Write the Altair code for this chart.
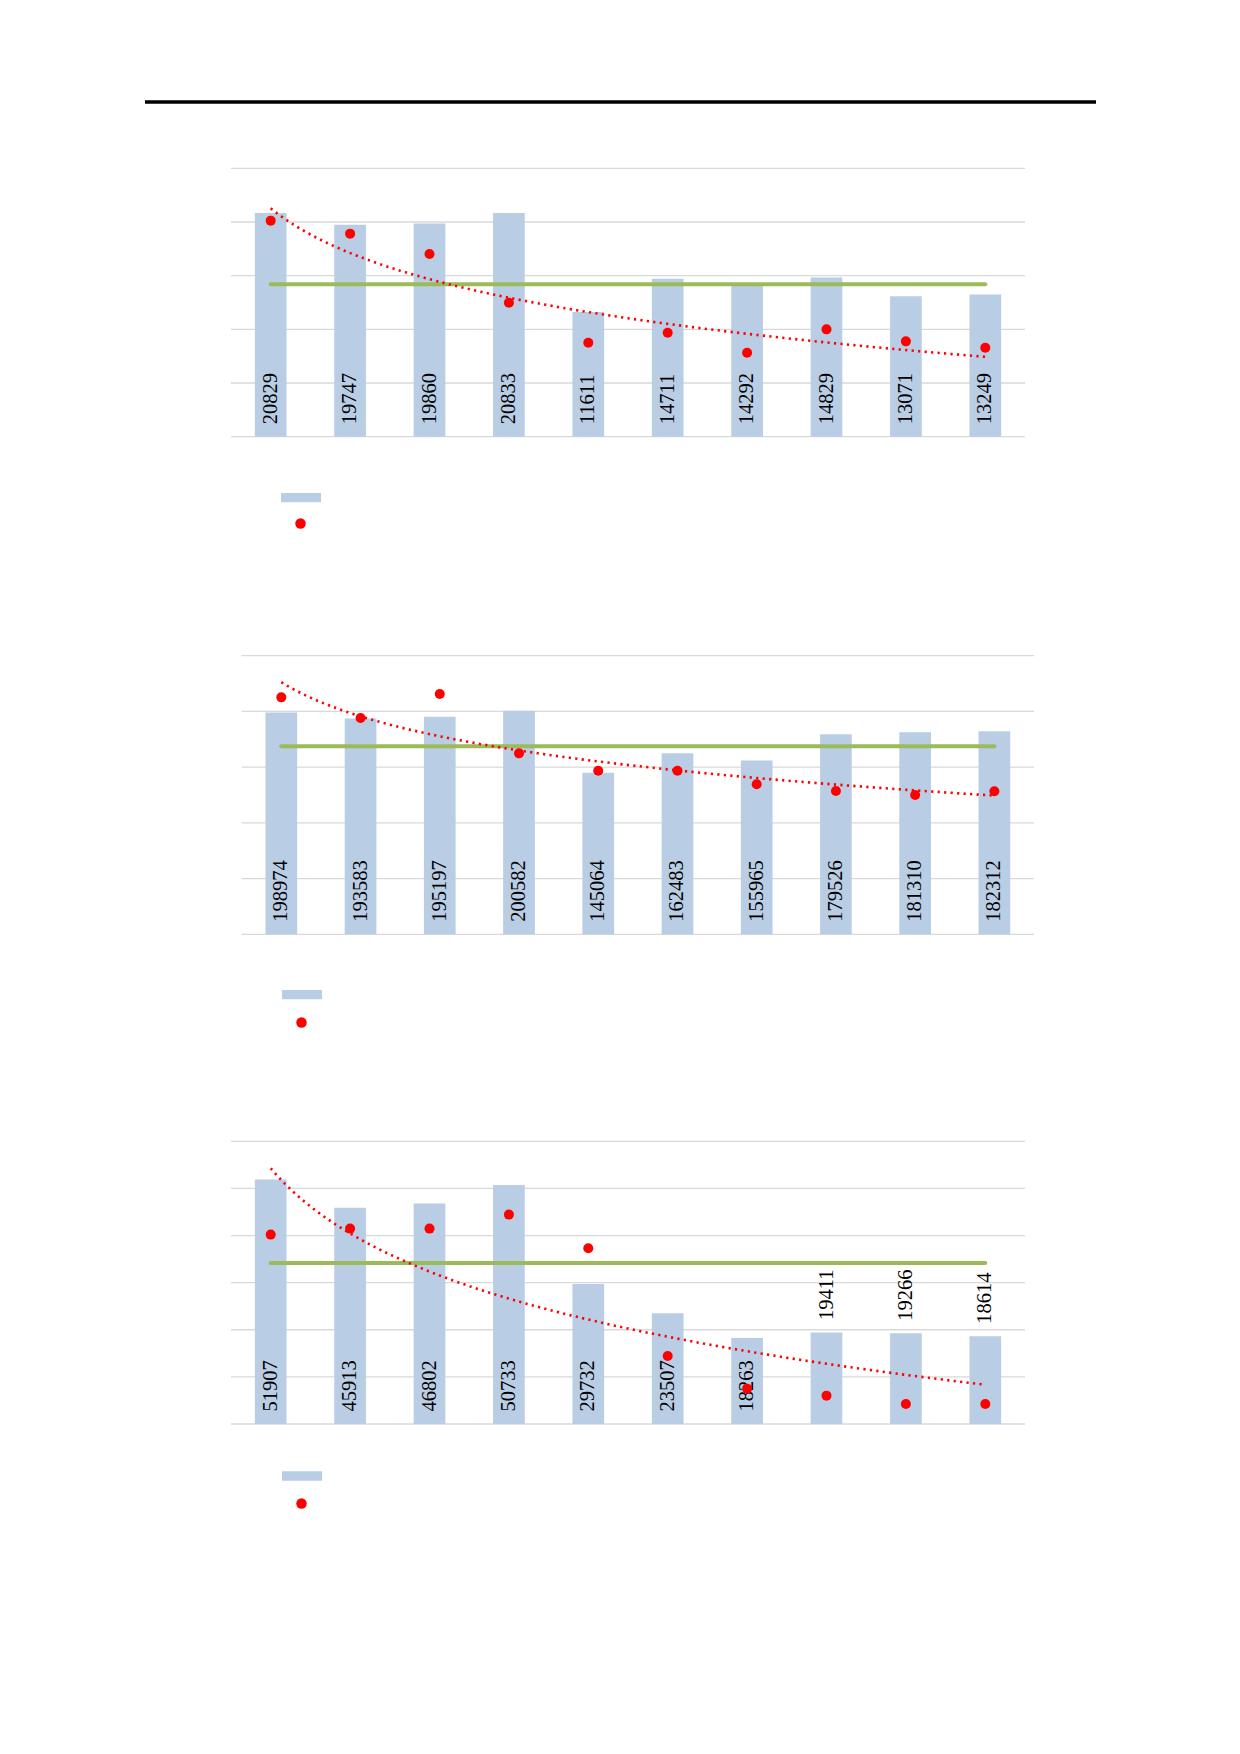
import altair as alt
import pandas as pd

# ---------------- data ----------------
idx = [1, 2, 3, 4, 5, 6, 7, 8, 9, 10]

c1_bars = [20829, 19747, 19860, 20833, 11611, 14711, 14292, 14829, 13071, 13249]
c1_dots = [20124, 18913, 17019, 12484, 8758, 9689, 7826, 10000, 8882, 8292]
c1_green = [14193, 14193, 14193, 14193, 14193, 14193, 14193, 14193, 14193, 14193]
c1_pos = ["in", "in", "in", "in", "in", "in", "in", "in", "in", "in"]
c1_ticks = [0, 5000, 10000, 15000, 20000, 25000]

c2_bars = [198974, 193583, 195197, 200582, 145064, 162483, 155965, 179526, 181310, 182312]
c2_dots = [212620, 194080, 215610, 162380, 146830, 146830, 134570, 128590, 125000, 128290]
c2_green = [168660, 168660, 168660, 168660, 168660, 168660, 168660, 168660, 168660, 168660]
c2_pos = ["in", "in", "in", "in", "in", "in", "in", "in", "in", "in"]
c2_ticks = [0, 50000, 100000, 150000, 200000, 250000]

c3_bars = [51907, 45913, 46802, 50733, 29732, 23507, 18263, 19411, 19266, 18614]
c3_dots = [40198, 41472, 41472, 44444, 37296, 14437, 7502, 6015, 4246, 4246]
c3_green = [34183, 34183, 34183, 34183, 34183, 34183, 34183, 34183, 34183, 34183]
c3_pos = ["in", "in", "in", "in", "in", "in", "in", "out", "out", "out"]
c3_ticks = [0, 10000, 20000, 30000, 40000, 50000, 60000]

BLUE = "#B9CDE5"
GREEN = "#9BBB59"
RED = "#FF0000"
GRID = "#D9D9D9"
FONT = "Liberation Serif"


def panel(bars, dots, green, pos, ticks, xr, yr, size, bar_leg, dot_leg, header=False):
    df = pd.DataFrame({"i": idx, "v": bars, "d": dots, "g": green, "pos": pos,
                       "s": ["bar"] * len(idx), "s2": ["dot"] * len(idx)})
    xs = alt.Scale(domain=[0.5, 10.5], range=xr, nice=False, zero=False, padding=0)
    ys = alt.Scale(domain=[0, ticks[-1]], range=yr, nice=False, padding=0)
    X = alt.X("i:Q", scale=xs, axis=None)

    grid = alt.Chart(pd.DataFrame({"t": ticks})).mark_rule(color=GRID, strokeWidth=1.3).encode(
        y=alt.Y("t:Q", scale=ys, axis=None),
        x=alt.X(datum=0.5, type="quantitative", scale=xs, axis=None),
        x2=alt.X2(datum=10.5),
    )
    bar = alt.Chart(df).mark_bar(size=31.7).encode(
        x=X,
        y=alt.Y("v:Q", scale=ys, axis=None),
        fill=alt.Fill("s:N", scale=alt.Scale(range=[BLUE]),
                      legend=alt.Legend(orient="none", legendX=bar_leg[0], legendY=bar_leg[1],
                                        title=None, labelExpr="''", padding=0,
                                        symbolType="M-1,-0.2325H1V0.2325H-1Z", symbolSize=1600,
                                        symbolStrokeWidth=0, symbolOpacity=1)),
    )
    labels = alt.Chart(df).transform_calculate(
        ly="datum.pos == 'out' ? datum.v : 0"
    ).mark_text(angle=270, align="left", baseline="middle", dx=12.5,
                font=FONT, fontSize=20.5, color="black").encode(
        x=X, y=alt.Y("ly:Q", scale=ys, axis=None), text=alt.Text("v:Q", format="d"))
    gline = alt.Chart(df).mark_line(color=GREEN, strokeWidth=4, strokeCap="round").encode(
        x=X, y=alt.Y("g:Q", scale=ys, axis=None))
    trend = alt.Chart(df).transform_regression("i", "d", method="log").mark_line(
        color=RED, strokeWidth=2.6, strokeDash=[2.2, 4.3]).encode(
        x=X, y=alt.Y("d:Q", scale=ys, axis=None))
    dot = alt.Chart(df).mark_circle(size=100, opacity=1).encode(
        x=X, y=alt.Y("d:Q", scale=ys, axis=None),
        color=alt.Color("s2:N", scale=alt.Scale(range=[RED]),
                        legend=alt.Legend(orient="none", legendX=dot_leg[0], legendY=dot_leg[1],
                                          title=None, labelExpr="''", padding=0,
                                          symbolType="circle", symbolSize=110,
                                          symbolStrokeWidth=0, symbolOpacity=1)),
    )
    layers = [grid, bar, labels, gline, trend, dot]
    if header:
        rule = alt.Chart(alt.Data(values=[{}])).mark_rule(color="black", strokeWidth=3.3).encode(
            x=alt.value(132), x2=alt.value(1083), y=alt.value(89))
        layers.append(rule)
    return alt.layer(*layers).properties(width=1083, height=size)


p1 = panel(c1_bars, c1_dots, c1_green, c1_pos, c1_ticks, [218, 1012], [423.7, 155.3], 547,
           (268, 464.6), (282, 505), header=True)
p2 = panel(c2_bars, c2_dots, c2_green, c2_pos, c2_ticks, [228.7, 1021], [374.3, 95.7], 490,
           (269, 414.6), (283, 457))
p3 = panel(c3_bars, c3_dots, c3_green, c3_pos, c3_ticks, [218, 1012], [374, 91.3], 510,
           (269, 406), (283, 448))

chart = alt.vconcat(p1, p2, p3, spacing=0, bounds="flush").resolve_scale(
    x="independent", y="independent", fill="independent", color="independent"
).resolve_legend(fill="independent", color="independent").configure_view(stroke=None)

chart.save("out.html", embed_options={"renderer": "svg", "actions": False})
